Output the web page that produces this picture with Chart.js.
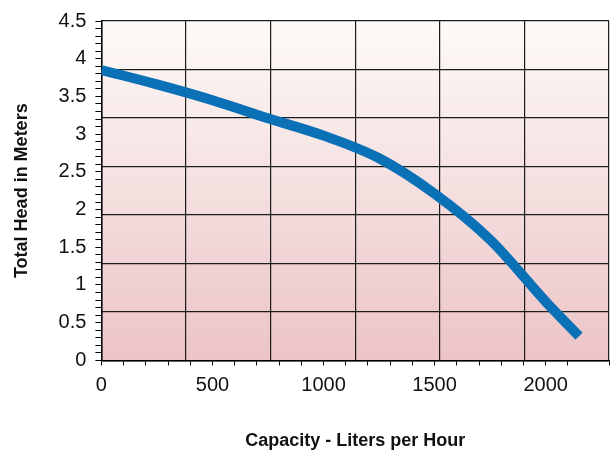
<!DOCTYPE html>
<html>
<head>
<meta charset="utf-8">
<script src="https://cdn.jsdelivr.net/npm/chart.js@4/dist/chart.umd.min.js"></script>
<style>
    html, body { margin: 0; padding: 0; background: #fff; }
    #wrap { width: 610px; height: 454px; }
</style>
</head>
<body>
<div id="wrap"><canvas id="pumpChart"></canvas></div>
<script>
// Pump curve
const capacity = [0, 250, 500, 750, 1000, 1250, 1500, 1750, 2000, 2150];
const head = [3.85, 3.66, 3.45, 3.21, 2.98, 2.68, 2.21, 1.60, 0.78, 0.32];

// axis ranges
const xMax = 2285;
const yMax = 4.5;
// the background grid is an even 6 x 7 mesh, not tied to the tick values
const gridCols = 6;
const gridRows = 7;

const fontFamily = '"Liberation Sans", Arial, Helvetica, sans-serif';

// soft pink gradient behind the plot
const plotBackground = {
    id: 'plotBackground',
    beforeDraw(chart) {
        const { ctx, chartArea: a } = chart;
        const g = ctx.createLinearGradient(0, a.top, 0, a.bottom);
        g.addColorStop(0, '#fdfaf8');
        g.addColorStop(1, '#ecc4c6');
        ctx.save();
        ctx.fillStyle = g;
        ctx.fillRect(a.left, a.top, a.right - a.left, a.bottom - a.top);
        ctx.restore();
    }
};

const isMultiple = (v, step) => Math.abs(v / step - Math.round(v / step)) < 1e-6;

new Chart(document.getElementById('pumpChart'), {
    type: 'line',
    data: {
        datasets: [{
            data: capacity.map((c, i) => ({ x: c, y: head[i] })),
            borderColor: '#0a71b6',
            borderWidth: 10,
            pointRadius: 0,
            cubicInterpolationMode: 'monotone',
            borderCapStyle: 'butt',
            fill: false
        }]
    },
    options: {
        responsive: true,
        maintainAspectRatio: false,
        animation: false,
        layout: { padding: { left: 0, right: 1, top: 21, bottom: 2 } },
        plugins: {
            legend: { display: false },
            tooltip: { enabled: false }
        },
        scales: {
            x: {
                type: 'linear',
                min: 0,
                max: xMax,
                position: 'bottom',
                grid: { drawOnChartArea: false, tickLength: 5, tickColor: '#000' },
                border: { color: '#000', width: 1.5 },
                ticks: {
                    stepSize: 100,
                    autoSkip: false,
                    maxRotation: 0,
                    // tick padding also pads the right edge, so the gap comes from lineHeight
                    padding: 0,
                    color: '#111',
                    font: { family: fontFamily, size: 20, lineHeight: '40px' },
                    callback: (v) => (isMultiple(v, 500) ? String(Math.round(v)) : '')
                },
                title: {
                    display: true,
                    text: 'Capacity - Liters per Hour',
                    color: '#111',
                    font: { family: fontFamily, size: 18, weight: 'bold' },
                    padding: { top: 25, bottom: 0 }
                }
            },
            y: {
                type: 'linear',
                min: 0,
                max: yMax,
                grid: { drawOnChartArea: false, tickLength: 6, tickColor: '#000' },
                border: { color: '#000', width: 1.5 },
                ticks: {
                    stepSize: 0.1,
                    autoSkip: false,
                    padding: 9,
                    color: '#111',
                    font: { family: fontFamily, size: 20 },
                    callback: (v) => (isMultiple(v, 0.5) ? String(Math.round(v * 10) / 10) : '')
                },
                title: {
                    display: true,
                    text: 'Total Head in Meters',
                    color: '#111',
                    font: { family: fontFamily, size: 18, weight: 'bold' },
                    padding: { top: 11, bottom: 17 }
                }
            },
            gridX: {
                type: 'linear',
                min: 0,
                max: gridCols,
                position: 'top',
                grid: { drawTicks: false, color: '#1c1c1c', lineWidth: 1.2 },
                border: { display: false },
                ticks: { display: false, stepSize: 1, padding: 0 }
            },
            gridY: {
                type: 'linear',
                min: 0,
                max: gridRows,
                position: 'right',
                grid: { drawTicks: false, color: '#1c1c1c', lineWidth: 1.2 },
                border: { display: false },
                ticks: { display: false, stepSize: 1, padding: 0 }
            }
        }
    },
    plugins: [plotBackground]
});
</script>
</body>
</html>
